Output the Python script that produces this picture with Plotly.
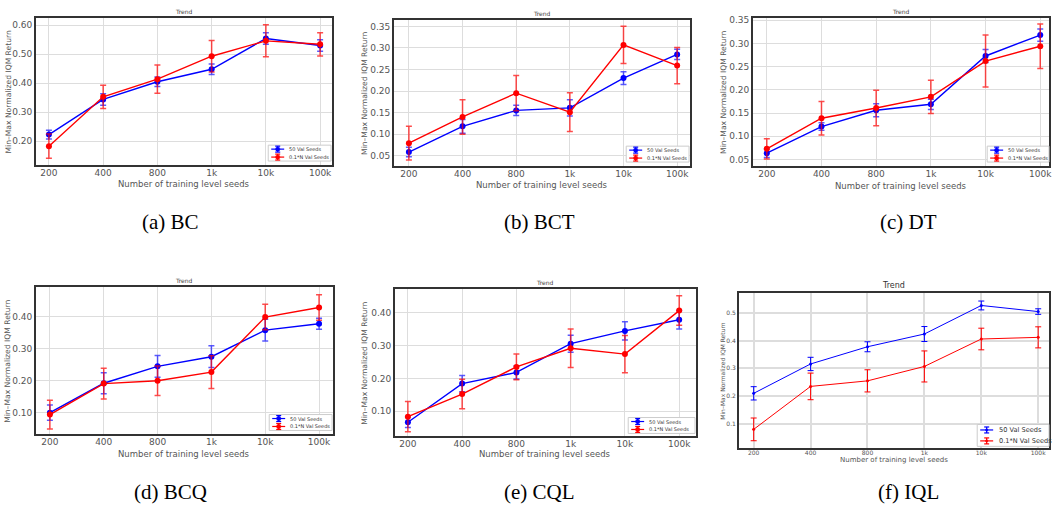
import plotly.graph_objects as go

W, H = 1053, 508

seeds = ["200", "400", "800", "1k", "10k", "100k"]
series_names = ["50 Val Seeds", "0.1*N Val Seeds"]
panel_captions = ["(a) BC", "(b) BCT", "(c) DT", "(d) BCQ", "(e) CQL", "(f) IQL"]

# (a) BC
bc_50 = [0.223, 0.344, 0.405, 0.448, 0.554, 0.530]
bc_50_err = [0.015, 0.020, 0.016, 0.018, 0.020, 0.020]
bc_n = [0.183, 0.353, 0.414, 0.493, 0.546, 0.534]
bc_n_err = [0.042, 0.040, 0.049, 0.054, 0.055, 0.040]
# (b) BCT
bct_50 = [0.0585, 0.118, 0.155, 0.161, 0.230, 0.285]
bct_50_err = [0.011, 0.016, 0.012, 0.019, 0.015, 0.012]
bct_n = [0.079, 0.140, 0.195, 0.151, 0.307, 0.259]
bct_n_err = [0.039, 0.040, 0.041, 0.045, 0.043, 0.042]
# (c) DT
dt_50 = [0.0636, 0.121, 0.156, 0.169, 0.273, 0.318]
dt_50_err = [0.009, 0.008, 0.014, 0.011, 0.014, 0.013]
dt_n = [0.073, 0.139, 0.161, 0.185, 0.262, 0.294]
dt_n_err = [0.022, 0.036, 0.038, 0.036, 0.056, 0.048]
# (d) BCQ
bcq_50 = [0.100, 0.192, 0.245, 0.275, 0.358, 0.378]
bcq_50_err = [0.024, 0.033, 0.034, 0.034, 0.034, 0.017]
bcq_n = [0.094, 0.191, 0.200, 0.227, 0.399, 0.429]
bcq_n_err = [0.045, 0.048, 0.046, 0.051, 0.040, 0.040]
# (e) CQL
cql_50 = [0.066, 0.184, 0.218, 0.306, 0.345, 0.379]
cql_50_err = [0.016, 0.025, 0.020, 0.026, 0.028, 0.028]
cql_n = [0.083, 0.152, 0.235, 0.292, 0.274, 0.407]
cql_n_err = [0.046, 0.045, 0.039, 0.059, 0.057, 0.045]
# (f) IQL
iql_50 = [0.210, 0.316, 0.378, 0.424, 0.527, 0.505]
iql_50_err = [0.024, 0.024, 0.018, 0.027, 0.016, 0.010]
iql_n = [0.080, 0.235, 0.255, 0.307, 0.406, 0.412]
iql_n_err = [0.041, 0.048, 0.040, 0.056, 0.039, 0.038]

data = [
    (bc_50, bc_50_err, bc_n, bc_n_err),
    (bct_50, bct_50_err, bct_n, bct_n_err),
    (dt_50, dt_50_err, dt_n, dt_n_err),
    (bcq_50, bcq_50_err, bcq_n, bcq_n_err),
    (cql_50, cql_50_err, cql_n, cql_n_err),
    (iql_50, iql_50_err, iql_n, iql_n_err),
]

# layout (pixel boxes): left, right, top, bottom
boxes = [
    (36, 333, 15, 163),
    (395, 692, 17, 164),
    (755, 1052, 15, 164),
    (36, 334, 286, 434),
    (396, 698, 288, 436),
    (741, 1052, 292, 448),
]
xranges = [(-0.24, 5.22), (-0.28, 5.24), (-0.255, 5.16), (-0.26, 5.26), (-0.24, 5.31), (-0.26, 5.19)]
yranges = [(0.118, 0.625), (0.026, 0.365), (0.036, 0.355), (0.032, 0.492), (0.0226, 0.472), (0.0115, 0.571)]
ytickvals = [
    [0.2, 0.3, 0.4, 0.5, 0.6],
    [0.05, 0.10, 0.15, 0.20, 0.25, 0.30, 0.35],
    [0.05, 0.10, 0.15, 0.20, 0.25, 0.30, 0.35],
    [0.1, 0.2, 0.3, 0.4],
    [0.1, 0.2, 0.3, 0.4],
    [0.1, 0.2, 0.3, 0.4, 0.5],
]
yfmt = [".2f", ".2f", ".2f", ".2f", ".2f", ".1f"]
ytitle_x = [8, 366, 726, 8, 366, 725]
xtitle_y = [182, 183, 184, 454, 454, 460]
caption_y = [220, 220, 220, 492, 492, 492]

FONT = "DejaVu Sans"
fig = go.Figure()
annotations = []
shapes = []
layout = dict(
    width=W, height=H, margin=dict(l=0, r=0, t=0, b=0),
    paper_bgcolor="white", plot_bgcolor="white", showlegend=False,
    font=dict(family=FONT, color="#555555"),
)


def px(x):
    return x / W


def py(y):
    return 1 - y / H


def draw_legend(x0, y0, x1, y1, small):
    """Compact matplotlib-like legend box (pixel coords)."""
    shapes.append(dict(type="rect", xref="paper", yref="paper",
                       x0=px(x0), x1=px(x1), y0=py(y1), y1=py(y0),
                       fillcolor="white", line=dict(color="#cccccc", width=1), layer="above"))
    n = len(series_names)
    step = (y1 - y0) / n
    cols = ["#0000ff", "#ff0000"]
    sw = 13
    for j, name in enumerate(series_names):
        cy = y0 + step * (j + 0.5)
        lx0 = x0 + 3
        lx1 = lx0 + sw
        mx = (lx0 + lx1) / 2
        c = cols[j]
        shapes.append(dict(type="line", xref="paper", yref="paper",
                           x0=px(lx0), x1=px(lx1), y0=py(cy), y1=py(cy),
                           line=dict(color=c, width=1.2), layer="above"))
        eh = 3
        shapes.append(dict(type="line", xref="paper", yref="paper",
                           x0=px(mx), x1=px(mx), y0=py(cy - eh), y1=py(cy + eh),
                           line=dict(color=c, width=1.2), layer="above"))
        for yy in (cy - eh, cy + eh):
            shapes.append(dict(type="line", xref="paper", yref="paper",
                               x0=px(mx - 2.5), x1=px(mx + 2.5), y0=py(yy), y1=py(yy),
                               line=dict(color=c, width=1.2), layer="above"))
        r = 1.2 if small else 2.2
        shapes.append(dict(type="circle", xref="paper", yref="paper",
                           x0=px(mx - r), x1=px(mx + r), y0=py(cy + r), y1=py(cy - r),
                           fillcolor=c, line=dict(color=c, width=0.5), layer="above"))
        annotations.append(dict(
            text=name, x=px(lx1 + (4 if small else 3)), y=py(cy), xref="paper", yref="paper",
            xanchor="left", yanchor="middle", showarrow=False,
            font=dict(size=6.6 if small else 5, color="#333333", family=FONT),
        ))


legend_boxes = [
    (269, 143, 332, 159),
    (628, 144, 691, 160),
    (990, 144, 1052, 160),
    (270, 414, 333, 430),
    (630, 417, 697, 433),
    (980, 424, 1052, 446),
]

for i, (b50, e50, bn, en) in enumerate(data):
    k = i + 1
    xa = "x" if k == 1 else f"x{k}"
    ya = "y" if k == 1 else f"y{k}"
    small = (i == 5)
    l, r, t, bt = boxes[i]
    for vals, errs, name, col, ecol in [
        (b50, e50, series_names[0], "#0000ff", "rgba(0,0,255,0.65)" if not small else "#0000ff"),
        (bn, en, series_names[1], "#ff0000", "rgba(255,0,0,0.7)" if not small else "#ff0000"),
    ]:
        fig.add_trace(go.Scatter(
            x=seeds, y=vals, name=name, mode="lines+markers",
            xaxis=xa, yaxis=ya,
            line=dict(color=col, width=1.0 if small else 1.4),
            marker=dict(color=col, size=3 if small else 6, symbol="circle"),
            error_y=dict(type="data", array=errs, visible=True, color=ecol,
                         thickness=1.0 if small else 1.5, width=3),
        ))
    dom_x = [l / W, r / W]
    dom_y = [1 - bt / H, 1 - t / H]
    tick_size = 6 if small else 9
    layout["xaxis" if k == 1 else f"xaxis{k}"] = dict(
        domain=dom_x, anchor=ya, type="category", range=list(xranges[i]),
        showgrid=True, gridcolor="#dddddd", gridwidth=1.6 if small else 1.3,
        showline=True, mirror=True, linecolor="#333333", linewidth=1.6,
        ticks="", tickfont=dict(size=tick_size, color="#555555", family=FONT),
        ticklabelstandoff=-2, zeroline=False,
    )
    layout["yaxis" if k == 1 else f"yaxis{k}"] = dict(
        domain=dom_y, anchor=xa, range=list(yranges[i]),
        tickvals=ytickvals[i], tickformat=yfmt[i],
        showgrid=True, gridcolor="#dddddd", gridwidth=1.6 if small else 1.3,
        showline=True, mirror=True, linecolor="#333333", linewidth=1.6,
        ticks="", tickfont=dict(size=tick_size, color="#555555", family=FONT),
        zeroline=False,
    )
    draw_legend(*legend_boxes[i], small)
    cx = (l + r) / 2 / W
    # subplot title
    annotations.append(dict(
        text="Trend", x=cx, y=1 - (t - 1) / H, xref="paper", yref="paper",
        xanchor="center", yanchor="bottom", showarrow=False,
        font=dict(size=8 if small else 6, color="#333333" if small else "#444444", family=FONT),
    ))
    # y title
    annotations.append(dict(
        text="Min\u2013Max Normalized IQM Return", x=ytitle_x[i] / W, y=1 - (t + bt) / 2 / H,
        xref="paper", yref="paper", xanchor="center", yanchor="middle",
        textangle=-90, showarrow=False,
        font=dict(size=6 if small else 7.6, color="#555555", family=FONT),
    ))
    # x title
    annotations.append(dict(
        text="Number of training level seeds", x=cx, y=1 - xtitle_y[i] / H,
        xref="paper", yref="paper", xanchor="center", yanchor="middle",
        showarrow=False, font=dict(size=7 if small else 8.5, color="#555555", family=FONT),
    ))
    # caption
    annotations.append(dict(
        text=panel_captions[i], x=(171 + 370 * (i % 3)) / W, y=1 - caption_y[i] / H,
        xref="paper", yref="paper", xanchor="center", yanchor="middle",
        showarrow=False, font=dict(size=21, color="#000000", family="Liberation Serif"),
    ))

layout["annotations"] = annotations
layout["shapes"] = shapes
fig.update_layout(**layout)
fig.write_html("out.html")
